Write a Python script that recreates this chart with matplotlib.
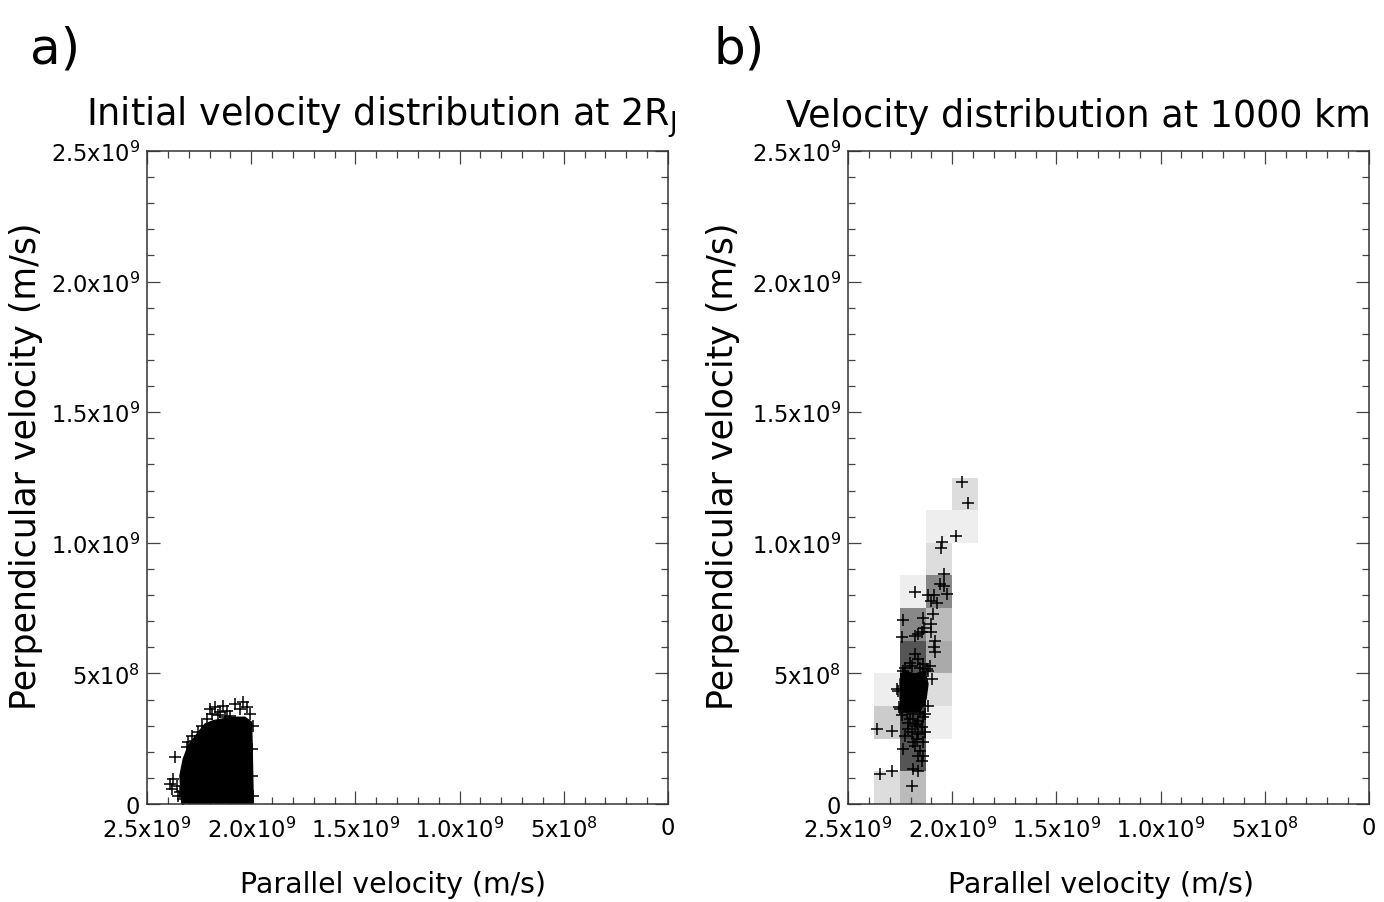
import matplotlib
matplotlib.use("Agg")
import matplotlib.pyplot as plt
from matplotlib import font_manager
from matplotlib.ticker import FixedLocator, MultipleLocator
import numpy as np

# the reference uses DejaVu Sans, squeezed; use the condensed cut if present
_names = {f.name for f in font_manager.fontManager.ttflist}
if "DejaVu Sans Condensed" in _names:
    FAMILY, SCALE = ["DejaVu Sans Condensed", "DejaVu Sans"], 1.1
else:
    FAMILY, SCALE = ["DejaVu Sans"], 1.0
plt.rcParams["font.family"] = FAMILY
plt.rcParams["mathtext.fontset"] = "dejavusans"

# values in units of 1e9 m/s
x_ticks = [2.5, 2.0, 1.5, 1.0, 0.5, 0.0]
x_tick_labels = ["2.5x10$^{9}$", "2.0x10$^{9}$", "1.5x10$^{9}$",
                 "1.0x10$^{9}$", "5x10$^{8}$", "0"]
y_ticks = [0.0, 0.5, 1.0, 1.5, 2.0, 2.5]
y_tick_labels = ["0", "5x10$^{8}$", "1.0x10$^{9}$", "1.5x10$^{9}$",
                 "2.0x10$^{9}$", "2.5x10$^{9}$"]

# panel a: dense core outline + scattered edge particles
left_core_par = [2.333, 2.342, 2.326, 2.302, 2.254, 2.222, 2.182, 2.094,
                 2.030, 1.998, 1.990]
left_core_perp = [0.0, 0.108, 0.172, 0.223, 0.274, 0.306, 0.319, 0.332,
                  0.332, 0.313, 0.0]
left_par = [2.366, 2.390, 2.374, 2.358, 2.382, 2.342, 2.350, 2.326, 2.318,
            2.302, 2.286, 2.270, 2.310, 2.254, 2.198, 2.174, 2.150, 2.134,
            2.118, 2.078, 2.054, 2.038, 2.022, 2.006, 2.102, 2.190, 2.214,
            2.126, 1.990, 1.995, 1.998, 1.993, 2.238, 2.160]
left_perp = [0.179, 0.077, 0.096, 0.070, 0.057, 0.045, 0.032, 0.019, 0.038,
             0.236, 0.262, 0.242, 0.217, 0.274, 0.364, 0.370, 0.351, 0.376,
             0.357, 0.383, 0.364, 0.389, 0.370, 0.345, 0.338, 0.345, 0.325,
             0.332, 0.300, 0.211, 0.109, 0.032, 0.300, 0.340]

# panel b: 2D histogram counts (rows bottom->top, columns left->right)
hist_par_edges = [2.375, 2.25, 2.125, 2.0, 1.875]
hist_perp_edges = [0.0, 0.125, 0.25, 0.375, 0.5, 0.625, 0.75, 0.875,
                   1.0, 1.125, 1.25]
hist_counts = [
    [2, 4, 0, 0],
    [0, 10, 0, 0],
    [3, 11, 1, 0],
    [1, 40, 2, 0],
    [0, 10, 5, 0],
    [0, 7, 4, 0],
    [0, 1, 7, 0],
    [0, 0, 2, 0],
    [0, 0, 1, 1],
    [0, 0, 0, 2],
]

right_core_par = [2.2505, 2.2265, 2.1785, 2.1306, 2.1162, 2.1258, 2.1546,
                  2.2361, 2.2505]
right_core_perp = [0.4785, 0.5091, 0.4976, 0.5091, 0.4594, 0.4019, 0.356,
                   0.356, 0.4019]
right_par = [1.955, 1.923, 1.984, 2.048, 2.055, 2.040, 2.059, 2.040, 2.179,
             2.115, 2.087, 2.024, 2.103, 2.071, 2.091, 2.235, 2.139, 2.103,
             2.135, 2.147, 2.103, 2.243, 2.179, 2.162, 2.083, 2.087, 2.083,
             2.179, 2.163, 2.203, 2.139, 2.107, 2.115, 2.235, 2.099, 2.259,
             2.251, 2.115, 2.362, 2.291, 2.195, 2.163, 2.187, 2.179, 2.235,
             2.155, 2.163, 2.139, 2.147, 2.347, 2.287, 2.187, 2.163, 2.195,
             2.219, 2.187, 2.155, 2.203, 2.163, 2.139, 2.179, 2.147, 2.211,
             2.131, 2.171, 2.139, 2.266, 2.254, 2.227, 2.195, 2.155, 2.123,
             2.243, 2.211, 2.171, 2.131, 2.227]
right_perp = [1.231, 1.151, 1.027, 1.002, 0.979, 0.881, 0.842, 0.833, 0.813,
              0.800, 0.800, 0.804, 0.778, 0.769, 0.727, 0.706, 0.711, 0.689,
              0.672, 0.660, 0.657, 0.638, 0.644, 0.651, 0.625, 0.600, 0.581,
              0.574, 0.555, 0.540, 0.536, 0.530, 0.510, 0.510, 0.479, 0.434,
              0.364, 0.376, 0.287, 0.281, 0.274, 0.268, 0.236, 0.223, 0.211,
              0.204, 0.185, 0.185, 0.166, 0.115, 0.128, 0.134, 0.128, 0.070,
              0.351, 0.345, 0.351, 0.325, 0.319, 0.332, 0.300, 0.294, 0.287,
              0.274, 0.249, 0.236, 0.440, 0.370, 0.520, 0.527, 0.521, 0.515,
              0.340, 0.310, 0.305, 0.345, 0.262]

E9 = 1e9
W, H = 1384, 903
fig = plt.figure(figsize=(W / 100, H / 100), dpi=100)
ax_a = fig.add_axes([147 / W, 1 - 805 / H, 521 / W, 653 / H])
ax_b = fig.add_axes([848 / W, 1 - 805 / H, 521 / W, 653 / H])


def style_axes(ax):
    ax.set_xlim(2.5 * E9, 0)
    ax.set_ylim(0, 2.5 * E9)
    ax.xaxis.set_major_locator(FixedLocator(np.array(x_ticks) * E9))
    ax.set_xticklabels(x_tick_labels)
    ax.yaxis.set_major_locator(FixedLocator(np.array(y_ticks) * E9))
    ax.set_yticklabels(y_tick_labels)
    ax.xaxis.set_minor_locator(MultipleLocator(1e8))
    ax.yaxis.set_minor_locator(MultipleLocator(1e8))
    ax.tick_params(which="both", direction="in", top=True, right=True,
                   color="#444444", width=0.9, labelsize=16.3 * SCALE)
    ax.tick_params(which="major", length=9.5)
    ax.tick_params(which="minor", length=5)
    ax.tick_params(axis="x", pad=9)
    ax.tick_params(axis="y", pad=5)
    for sp in ax.spines.values():
        sp.set_color("#333333")
        sp.set_linewidth(1.1)
        sp.set_zorder(5)


# panel a
ax_a.fill(np.array(left_core_par) * E9, np.array(left_core_perp) * E9,
          color="black", zorder=2)
ax_a.plot(np.array(left_par) * E9, np.array(left_perp) * E9, "+",
          color="black", ms=8, mew=1.1, zorder=3)
style_axes(ax_a)

# panel b
counts = np.ma.masked_equal(np.array(hist_counts), 0)
ax_b.pcolormesh(np.array(hist_par_edges) * E9, np.array(hist_perp_edges) * E9,
                counts, cmap="gray_r", vmin=0, vmax=15, zorder=1)
ax_b.fill(np.array(right_core_par) * E9, np.array(right_core_perp) * E9,
          color="black", zorder=2)
ax_b.plot(np.array(right_par) * E9, np.array(right_perp) * E9, "+",
          color="black", ms=8, mew=1.1, zorder=3)
style_axes(ax_b)

# titles and labels
fig.text(30 / W, 1 - 63 / H, "a)", fontsize=36 * SCALE, va="baseline", ha="left")
fig.text(713 / W, 1 - 63 / H, "b)", fontsize=36 * SCALE, va="baseline", ha="left")
fig.text(381 / W, 1 - 126 / H, "Initial velocity distribution at 2R$_\\mathrm{J}$",
         fontsize=26.3 * SCALE, va="baseline", ha="center")
fig.text(1078 / W, 1 - 127 / H, "Velocity distribution at 1000 km",
         fontsize=26.3 * SCALE, va="baseline", ha="center")
for cx in (393, 1101):
    fig.text(cx / W, 1 - 893 / H, "Parallel velocity (m/s)",
             fontsize=20.4 * SCALE, va="baseline", ha="center")
for cx in (26, 723):
    fig.text(cx / W, 1 - 466 / H, "Perpendicular velocity (m/s)",
             fontsize=25, rotation=90, va="center", ha="center",
             family="DejaVu Sans")

fig.savefig("out.png", dpi=100)
